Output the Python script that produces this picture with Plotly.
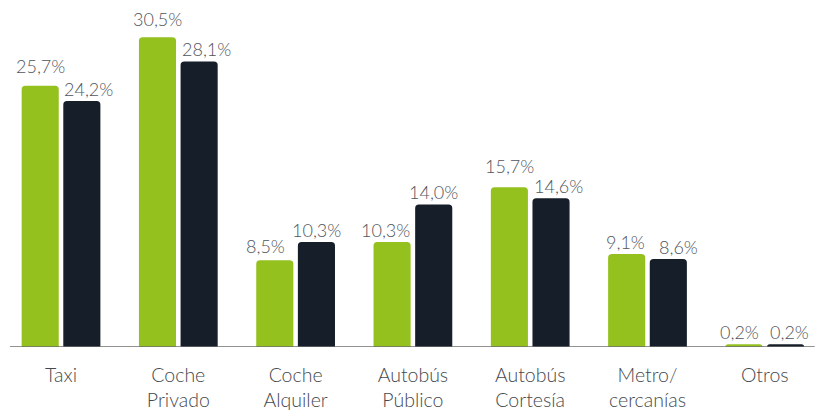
import plotly.graph_objects as go

categories = ["Taxi", "Coche<br>Privado", "Coche<br>Alquiler", "Autobús<br>Público",
              "Autobús<br>Cortesía", "Metro/<br>cercanías", "Otros"]
serie_a = [25.7, 30.5, 8.5, 10.3, 15.7, 9.1, 0.2]
serie_b = [24.2, 28.1, 10.3, 14.0, 14.6, 8.6, 0.2]

green = "#95c11f"
navy = "#161e29"
label_color = "#50555c"

# label nudges (px) so neighbouring value labels do not collide
nudge_x_a = [0, 0, -9, -7, 0, -1, -4]
nudge_y_a = [8, 6, 2, 0, 9, 0, 0]
nudge_x_b = [7, 7, 0, 0, 7, 10, 4]
nudge_y_b = [0, 0, 0, 0, 0, 0, 0]

def fmt(v):
    return f"{v:.1f}%".replace(".", ",")

fig = go.Figure()
for vals, col, name in [(serie_a, green, "A"), (serie_b, navy, "B")]:
    fig.add_trace(go.Bar(
        x=categories, y=vals, name=name,
        marker=dict(color=col, line=dict(color=col, width=1.5)),
    ))

half_slot = 117.3 * (1 - 0.29) / 4
for vals, side, nx, ny in [(serie_a, -1, nudge_x_a, nudge_y_a), (serie_b, 1, nudge_x_b, nudge_y_b)]:
    for cat, v, dx, dy in zip(categories, vals, nx, ny):
        fig.add_annotation(
            x=cat, y=v, xref="x", yref="y", text=fmt(v), showarrow=False,
            xshift=side * half_slot + dx, yshift=dy, yanchor="bottom",
            font=dict(family="Lato", size=18, color=label_color, weight=300),
        )

# page body adds an 8px offset, so the ranges are set to compensate
fig.update_layout(
    width=824, height=411,
    margin=dict(l=0, r=0, t=0, b=72),
    plot_bgcolor="white", paper_bgcolor="white",
    barmode="group", bargap=0.29, bargroupgap=0.145,
    barcornerradius=3,
    showlegend=False,
    xaxis=dict(showgrid=False, showline=False, ticks="",
               range=[-0.452, 6.573], ticklabelstandoff=14,
               tickfont=dict(family="Lato", size=19.5, color="#44494f", weight=300)),
    yaxis=dict(range=[0, 33.46], visible=False),
)
# baseline
fig.add_shape(type="line", xref="paper", yref="y", x0=0.0024, x1=0.979, y0=0, y1=0,
              line=dict(color="#6e6e6e", width=1.5))

fig.write_html("out.html")
